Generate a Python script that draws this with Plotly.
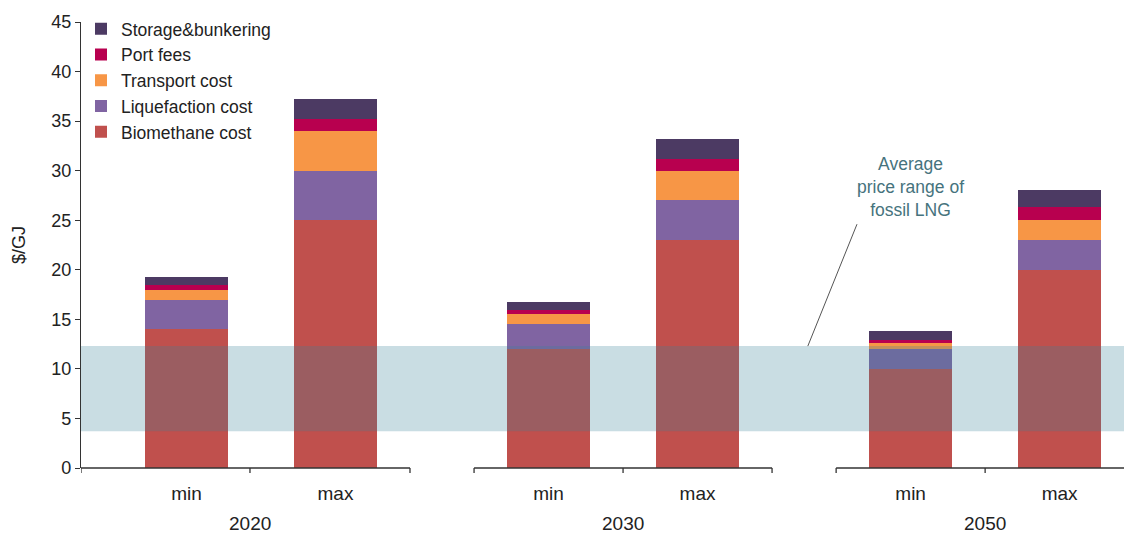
import plotly.graph_objects as go

# ---- data ----
years = ["2020", "2030", "2050"]
cases = ["min", "max"]
components = ["Biomethane cost", "Liquefaction cost", "Transport cost", "Port fees", "Storage&bunkering"]
biomethane = [14.0, 25.0, 12.0, 23.0, 10.0, 20.0]
liquefaction = [3.0, 5.0, 2.5, 4.0, 2.0, 3.0]
transport = [1.0, 4.0, 1.0, 3.0, 0.6, 2.0]
port_fees = [0.5, 1.2, 0.4, 1.2, 0.3, 1.3]
storage = [0.8, 2.0, 0.8, 2.0, 0.9, 1.8]
lng_band = [3.7, 12.3]  # average fossil LNG price range, $/GJ

series = [biomethane, liquefaction, transport, port_fees, storage]
colors = ["#c0504d", "#8064a2", "#f79646", "#b8004f", "#4c3a63"]

# ---- layout helpers ----
GAP = 0.43
xpos = []
xlabels = []
for g, _ in enumerate(years):
    for c, case in enumerate(cases):
        xpos.append(g * (2 + GAP) + c)
        xlabels.append(case)

X_LEFT, X_RIGHT = -0.708, 6.292
AX = "#333333"
FONT = "Arial, Liberation Sans, sans-serif"

fig = go.Figure()
for name, vals, col in zip(components, series, colors):
    fig.add_trace(go.Bar(x=xpos, y=vals, name=name, marker=dict(color=col, line=dict(width=0)),
                         width=0.557))

# fossil LNG band
fig.add_shape(type="rect", xref="paper", yref="y", x0=0, x1=1, y0=lng_band[0], y1=lng_band[1],
              fillcolor="rgba(55,129,151,0.27)", line=dict(width=0), layer="above")

# segmented x axis with group ticks
tick = -5 / 446
for g, yr in enumerate(years):
    c0 = xpos[2 * g]
    c1 = xpos[2 * g + 1]
    start = X_LEFT if g == 0 else c0 - 0.5
    end = X_RIGHT if g == len(years) - 1 else c1 + 0.5
    fig.add_shape(type="line", xref="x", yref="paper", x0=start, x1=end, y0=0, y1=0,
                  line=dict(color=AX, width=1.3))
    for tx in [start, c0 + 0.5 if g else (start + end) / 2 + 0.03, end]:
        if X_LEFT <= tx < X_RIGHT:
            fig.add_shape(type="line", xref="x", yref="paper", x0=tx, x1=tx, y0=0, y1=tick,
                          line=dict(color=AX, width=1.3))
    mid = (start + end) / 2 + 0.03 if g == 0 else c0 + 0.5
    fig.add_annotation(x=mid, y=0, xref="x", yref="paper", text=yr, showarrow=False,
                       yanchor="middle", yshift=-55, font=dict(size=19, color="#222", family=FONT))

# annotation for LNG band
fig.add_annotation(x=4.856, y=28.35, xref="x", yref="y", text="Average<br>price range of<br>fossil LNG",
                   showarrow=False, font=dict(size=17.5, color="#46737d", family=FONT), align="center")
fig.add_shape(type="line", xref="x", yref="y", x0=4.50, y0=24.6, x1=4.17, y1=lng_band[1],
              line=dict(color="#555", width=1))

fig.update_layout(
    barmode="stack",
    width=1124, height=534,
    margin=dict(l=81, r=0, t=22, b=66),
    paper_bgcolor="white", plot_bgcolor="white",
    font=dict(family=FONT, size=18, color="#222"),
    showlegend=True,
    legend=dict(x=0.0, y=1.025, xanchor="left", yanchor="top", traceorder="reversed",
                bgcolor="rgba(0,0,0,0)", font=dict(size=17.5, color="#222")),
    bargap=0,
)
fig.update_xaxes(range=[X_LEFT, X_RIGHT], tickvals=xpos, ticktext=xlabels, showline=False,
                 showgrid=False, zeroline=False, ticks="", ticklabelstandoff=12,
                 tickfont=dict(size=19, color="#222"))
fig.update_yaxes(range=[0, 45], dtick=5, showline=True, linecolor=AX, linewidth=1.3, ticks="outside",
                 ticklen=5, tickcolor=AX, showgrid=False, zeroline=False,
                 tickfont=dict(size=18, color="#222"),
                 title=dict(text="$/GJ", font=dict(size=18, color="#222"), standoff=20))

fig.write_html("out.html")
